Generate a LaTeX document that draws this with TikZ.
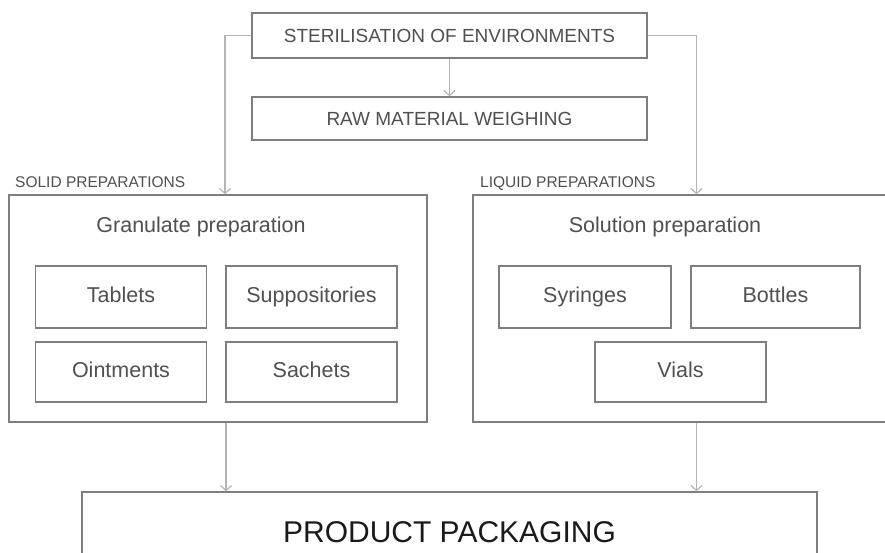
\documentclass[tikz,border=0pt]{standalone}
\usepackage{fontspec}
\setmainfont{Liberation Sans}
\usetikzlibrary{arrows.meta}
\definecolor{boxc}{HTML}{7E7E7E}
\definecolor{linec}{HTML}{B4B4B4}
\definecolor{txtc}{HTML}{505050}
\definecolor{packc}{HTML}{1A1A1A}
\tikzset{
  stagebox/.style={draw=boxc, line width=1.4pt, rectangle, inner sep=0pt, text=txtc,
    text height=13.6pt, text depth=0pt, font=\fontsize{19}{22}\selectfont},
  groupbox/.style={draw=boxc, line width=1.4pt, rectangle, inner sep=0pt},
  itembox/.style={draw=boxc, line width=1.4pt, rectangle, inner sep=0pt, text=txtc,
    minimum width=171pt, minimum height=62pt, text height=15.5pt, text depth=4.5pt,
    font=\fontsize{21.5}{25}\selectfont},
  grouplabel/.style={text=txtc, inner sep=0pt, font=\fontsize{15.5}{18}\selectfont},
  subtitle/.style={text=txtc, inner sep=0pt, text height=15.5pt, text depth=4.5pt,
    font=\fontsize{21.5}{25}\selectfont},
  conn/.style={draw=linec, line width=1.4pt, -{Straight Barb[length=5pt,width=11pt,line width=1.2pt]}},
}
\begin{document}
\begin{tikzpicture}[x=1pt,y=-1pt]
\clip (0,0) rectangle (885,553);
\fill[white] (0,0) rectangle (885,553);

% top stages
\node[stagebox, minimum width=395pt, minimum height=45pt] (ster) at (449.5,35.5) {STERILISATION OF ENVIRONMENTS};
\node[stagebox, minimum width=395pt, minimum height=43pt] (raw) at (449.5,118.5) {RAW MATERIAL WEIGHING};

% solid group
\node[groupbox, minimum width=418pt, minimum height=227pt] (solid) at (218,308.5) {};
\node[grouplabel, anchor=base west] (solidlbl) at (15,188) {SOLID PREPARATIONS};
\node[subtitle] (gran) at (201,227) {Granulate preparation};
\node[itembox] (tab) at (121,297) {Tablets};
\node[itembox] (sup) at (311.5,297) {Suppositories};
\node[itembox, minimum height=60pt] (oint) at (121,372) {Ointments};
\node[itembox, minimum height=60pt] (sach) at (311.5,372) {Sachets};

% liquid group
\node[groupbox, minimum width=447pt, minimum height=227pt] (liquid) at (696.5,308.5) {};
\node[grouplabel, anchor=base west] (liqlbl) at (480,188) {LIQUID PREPARATIONS};
\node[subtitle] (sol) at (665,227) {Solution preparation};
\node[itembox, minimum width=172pt] (syr) at (585,297) {Syringes};
\node[itembox, minimum width=169pt] (bot) at (775.5,297) {Bottles};
\node[itembox, minimum height=60pt] (vial) at (680.5,372) {Vials};

% packaging
\node[draw=boxc, line width=1.4pt, rectangle, inner sep=0pt, minimum width=735pt, minimum height=80pt,
      text=packc, text height=21.5pt, text depth=0pt, font=\fontsize{30}{34}\selectfont] (pack) at (449.5,532) {\raisebox{0pt}{PRODUCT PACKAGING}};

% connectors
\draw[conn] (ster.south) -- (raw.north);
\draw[conn] (ster.west) -| ([xshift=7pt]solid.north);
\draw[conn] (ster.east) -| (liquid.north);
\draw[conn] ([xshift=8pt]solid.south) -- ([xshift=8pt]solid.south |- pack.north);
\draw[conn] (liquid.south) -- (liquid.south |- pack.north);
\end{tikzpicture}
\end{document}
